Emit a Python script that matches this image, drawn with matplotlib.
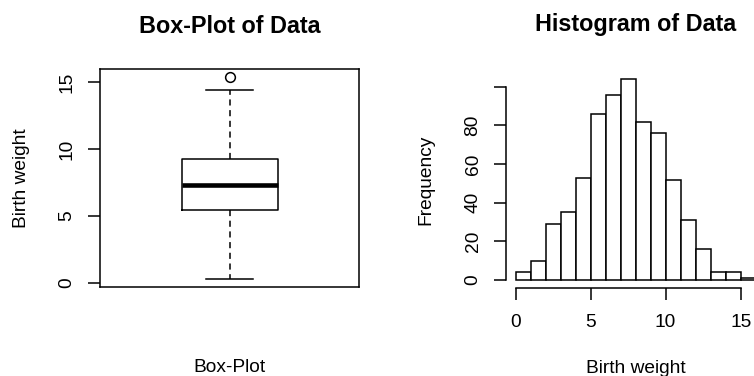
import matplotlib
matplotlib.use("Agg")
import matplotlib.pyplot as plt
import numpy as np

plt.rcParams['font.family'] = ['Liberation Sans', 'DejaVu Sans']

# box-plot summary
box_q1 = 5.42
box_med = 7.27
box_q3 = 9.22
box_whislo = 0.25
box_whishi = 14.4
box_fliers = [15.35]

# histogram of the same data, unit-wide bins
bin_edges = [0, 1, 2, 3, 4, 5, 6, 7, 8, 9, 10, 11, 12, 13, 14, 15, 16]
bin_counts = [4, 10, 29, 35, 53, 86, 96, 104, 82, 76, 52, 31, 16, 4, 4, 1]

lw = 1.1
fs = 13.8

fig = plt.figure(figsize=(7.54, 3.76), dpi=100)

# ---- box plot ----
ax1 = fig.add_axes([0.1326, 0.2359, 0.3439, 0.5798])
stats = [dict(q1=box_q1, med=box_med, q3=box_q3, whislo=box_whislo,
              whishi=box_whishi, fliers=box_fliers)]
ax1.bxp(stats, positions=[1], widths=0.37, showfliers=True,
        boxprops=dict(color='black', linewidth=lw),
        medianprops=dict(color='black', linewidth=3.3, solid_capstyle='butt'),
        whiskerprops=dict(color='black', linewidth=lw, linestyle=(0, (4, 3))),
        capprops=dict(color='black', linewidth=lw),
        capwidths=0.184,
        flierprops=dict(marker='o', markerfacecolor='none',
                        markeredgecolor='black', markersize=7, markeredgewidth=lw))
lo = min(box_whislo, min(box_fliers))
hi = max(box_whishi, max(box_fliers))
pad = (hi - lo) * 0.04
ax1.set_xlim(0.5, 1.5)
ax1.set_ylim(lo - pad, hi + pad)
ax1.set_xticks([])
ax1.set_yticks([0, 5, 10, 15])
ax1.tick_params(axis='y', length=8.6, width=lw, pad=9, labelsize=fs,
                labelrotation=90)
for lab in ax1.get_yticklabels():
    lab.set_va('center')
for s in ax1.spines.values():
    s.set_linewidth(lw)
ax1.set_title('Box-Plot of Data', fontsize=16.8, fontweight='bold', pad=26)
ax1.set_ylabel('Birth weight', fontsize=fs)
ax1.yaxis.set_label_coords(-0.27, 0.5)
ax1.set_xlabel('Box-Plot', fontsize=fs)
ax1.xaxis.set_label_coords(0.5, -0.33)

# ---- histogram ----
ax2 = fig.add_axes([0.6711, 0.234, 0.3438, 0.577])
edges = np.array(bin_edges)
ax2.bar(edges[:-1], bin_counts, width=np.diff(edges), align='edge',
        color='white', edgecolor='black', linewidth=lw)
xr = edges[-1] - edges[0]
ax2.set_xlim(edges[0] - 0.04 * xr, edges[-1] + 0.04 * xr)
ymax = max(bin_counts)
ax2.set_ylim(-0.04 * ymax, ymax * 1.04)
ax2.set_xticks([0, 5, 10, 15])
ax2.set_yticks([0, 20, 40, 60, 80, 100])
ax2.set_yticklabels(['0', '20', '40', '60', '80', ''])
ax2.spines['top'].set_visible(False)
ax2.spines['right'].set_visible(False)
ax2.spines['bottom'].set_bounds(0, 15)
ax2.spines['left'].set_bounds(0, 100)
ax2.spines['bottom'].set_linewidth(lw)
ax2.spines['left'].set_linewidth(lw)
ax2.tick_params(axis='x', length=8.6, width=lw, pad=10, labelsize=fs)
ax2.tick_params(axis='y', length=8.6, width=lw, pad=9, labelsize=fs,
                labelrotation=90)
for lab in ax2.get_yticklabels():
    lab.set_va('center')
ax2.set_title('Histogram of Data', fontsize=16.8, fontweight='bold', pad=28.5)
ax2.set_ylabel('Frequency', fontsize=fs)
ax2.yaxis.set_label_coords(-0.275, 0.5)
ax2.set_xlabel('Birth weight', fontsize=fs)
ax2.xaxis.set_label_coords(0.5, -0.33)

fig.savefig('out.png', dpi=100)
